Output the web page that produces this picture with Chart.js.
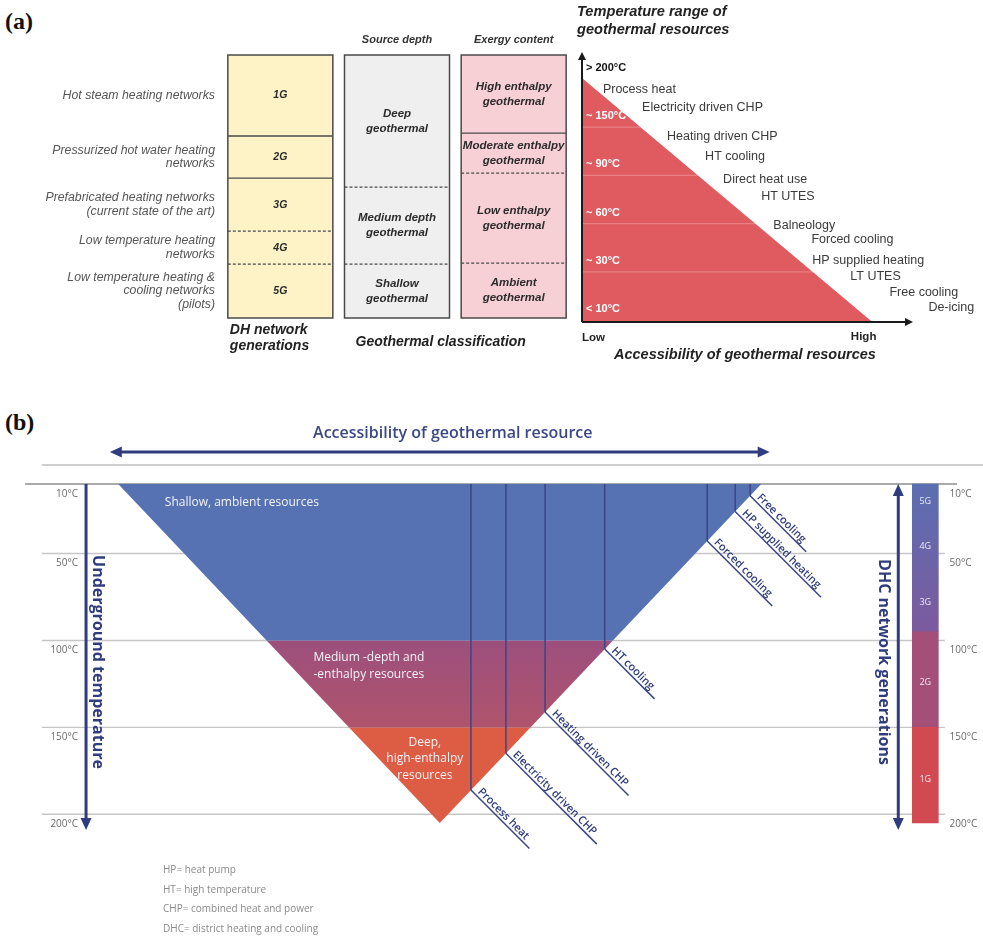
<!DOCTYPE html>
<html>
<head>
<meta charset="utf-8">
<script src="https://cdn.jsdelivr.net/npm/chart.js@4.4.1/dist/chart.umd.min.js"></script>
<style>
  html, body { margin: 0; padding: 0; background: #fff; }
  #page { position: relative; width: 983px; height: 939px; overflow: hidden; }
  canvas { position: absolute; }
  .tag { position: absolute; font: bold 24px "Liberation Serif", "DejaVu Serif", serif; color: #111; }
  .notes { position: absolute; left: 163px; top: 860px; font: 10px "Open Sans", sans-serif; color: #8a8a8a; line-height: 19.7px; }
</style>
</head>
<body>
<div id="page">
  <div class="tag" style="left:5px;top:8px">(a)</div>
  <div class="tag" style="left:5px;top:409px">(b)</div>
  <canvas id="classes" width="575" height="370" style="left:0;top:0"></canvas>
  <canvas id="range" width="413" height="370" style="left:570px;top:0"></canvas>
  <canvas id="access" width="983" height="564" style="left:0;top:375px"></canvas>
  <div class="notes">HP= heat pump<br>HT= high temperature<br>CHP= combined heat and power<br>DHC= district heating and cooling</div>
</div>
<script>
// ---------- (a) classification columns ----------
const dhGenerations = ['1G', '2G', '3G', '4G', '5G'];
const dhSpans = [30.8, 16.0, 20.2, 12.5, 20.5];
const dhDescriptions = [
  ['Hot steam heating networks'],
  ['Pressurized hot water heating', 'networks'],
  ['Prefabricated heating networks', '(current state of the art)'],
  ['Low temperature heating', 'networks'],
  ['Low temperature heating &', 'cooling networks', '(pilots)']
];
const depthClasses = [['Deep', 'geothermal'], ['Medium depth', 'geothermal'], ['Shallow', 'geothermal']];
const depthSpans = [50.2, 29.3, 20.5];
const exergyClasses = [['High enthalpy', 'geothermal'], ['Moderate enthalpy', 'geothermal'], ['Low enthalpy', 'geothermal'], ['Ambient', 'geothermal']];
const exergySpans = [29.7, 15.2, 34.2, 20.9];
const columnHeaders = ['', 'Source depth', 'Exergy content'];

// ---------- (a) temperature range vs accessibility ----------
const rangeTickLabels = ['< 10°C', '~ 30°C', '~ 60°C', '~ 90°C', '~ 150°C', '> 200°C'];
const rangeEdge = [{ x: 0, y: 4.79 }, { x: 1, y: -0.27 }];
const rangeApps = ['Process heat', 'Electricity driven CHP', 'Heating driven CHP', 'HT cooling', 'Direct heat use', 'HT UTES',
  'Balneology', 'Forced cooling', 'HP supplied heating', 'LT UTES', 'Free cooling', 'De-icing'];
const rangeAppAccess = [0.072, 0.207, 0.293, 0.424, 0.486, 0.617, 0.659, 0.79, 0.793, 0.924, 1.059, 1.193];
const rangeAppLevel = [4.56, 4.17, 3.57, 3.17, 2.68, 2.34, 1.74, 1.43, 1.0, 0.68, 0.35, 0.04];

// ---------- (b) underground temperature vs accessibility ----------
const resourceAccess = [10, 44.5, 79];   // triangle corners: shallow left, deep apex, shallow right
const resourceTemp = [10, 205, 10];
const resourceBands = [[10, 100], [100, 150], [150, 205]];
const resourceBandNames = [['Shallow, ambient resources'], ['Medium -depth and', '-enthalpy resources'], ['Deep,', 'high-enthalpy', 'resources']];
const applications = ['Process heat', 'Electricity driven CHP', 'Heating driven CHP', 'HT cooling', 'Forced cooling', 'HP supplied heating', 'Free cooling'];
const applicationAccess = [47.85, 51.6, 55.8, 62.2, 73.2, 76.2, 77.8];
const tempTicks = [10, 50, 100, 150, 200];
const tempTickLabels = ['10°C', '50°C', '100°C', '150°C', '200°C'];
const generationLabels = ['5G', '4G', '3G', '2G', '1G'];
const generationLabelTemps = [20, 46, 78, 124, 180];
const generationBands = [[10, 95], [95, 150], [150, 205]];
const generationAccess = 96.6;

const NAVY = '#2f3c7e';
const base = { responsive: false, animation: false, events: [], plugins: { legend: { display: false }, tooltip: { enabled: false } } };

function arrow(ctx, x1, y1, x2, y2, both, L, W, color, lw) {
  const a = Math.atan2(y2 - y1, x2 - x1);
  const cx = Math.cos(a), sy = Math.sin(a);
  ctx.save();
  ctx.strokeStyle = color; ctx.fillStyle = color; ctx.lineWidth = lw;
  ctx.beginPath();
  ctx.moveTo(x1 + (both ? cx * L * 0.7 : 0), y1 + (both ? sy * L * 0.7 : 0));
  ctx.lineTo(x2 - cx * L * 0.7, y2 - sy * L * 0.7);
  ctx.stroke();
  const head = (tx, ty, dx, dy) => {
    ctx.beginPath();
    ctx.moveTo(tx, ty);
    ctx.lineTo(tx - dx * L - dy * W, ty - dy * L + dx * W);
    ctx.lineTo(tx - dx * L + dy * W, ty - dy * L - dx * W);
    ctx.closePath(); ctx.fill();
  };
  head(x2, y2, cx, sy);
  if (both) head(x1, y1, -cx, -sy);
  ctx.restore();
}

function lines(ctx, arr, x, yc, lh) {
  arr.forEach((t, i) => ctx.fillText(t, x, yc + (i - (arr.length - 1) / 2) * lh));
}

// ======================= (a) classification columns =======================
const classColumns = [
  { spans: dhSpans, names: dhGenerations.map(g => [g]), fill: '#fdf3c6', dash: [[], [], [3, 2], [3, 2]], font: 'italic bold 10.5px "Liberation Sans"' },
  { spans: depthSpans, names: depthClasses, fill: '#efefef', dash: [[3, 2], [3, 2]], font: 'italic bold 11.5px "Liberation Sans"' },
  { spans: exergySpans, names: exergyClasses, fill: '#f7d0d5', dash: [[], [3, 2], [3, 2]], font: 'italic bold 11.5px "Liberation Sans"' }
];
const segCount = Math.max(...classColumns.map(c => c.spans.length));
const classDatasets = [];
for (let i = 0; i < segCount; i++) {
  classDatasets.push({
    data: classColumns.map(c => (c.spans[i] === undefined ? null : c.spans[i])),
    backgroundColor: classColumns.map(c => c.fill),
    borderWidth: 0,
    barPercentage: 0.9,
    categoryPercentage: 1,
    stack: 'class'
  });
}

const classPlugin = {
  id: 'classText',
  afterDatasetsDraw(chart) {
    const { ctx, scales: { y }, chartArea } = chart;
    const meta0 = chart.getDatasetMeta(0);
    const top = y.getPixelForValue(0), bottom = y.getPixelForValue(100);
    ctx.save();
    classColumns.forEach((col, ci) => {
      const bar = meta0.data[ci];
      const left = bar.x - bar.width / 2, right = bar.x + bar.width / 2;
      let acc = 0;
      col.spans.forEach((v, si) => {
        const y0 = y.getPixelForValue(acc), y1 = y.getPixelForValue(acc + v);
        ctx.font = col.font; ctx.fillStyle = '#2b2b2b'; ctx.textAlign = 'center'; ctx.textBaseline = 'middle';
        lines(ctx, col.names[si], bar.x, (y0 + y1) / 2, 15);
        acc += v;
        if (si < col.spans.length - 1) {
          ctx.strokeStyle = '#4a4a4a'; ctx.lineWidth = 1.3; ctx.setLineDash(col.dash[si]);
          ctx.beginPath(); ctx.moveTo(left, y1); ctx.lineTo(right, y1); ctx.stroke();
          ctx.setLineDash([]);
        }
      });
      ctx.strokeStyle = '#4a4a4a'; ctx.lineWidth = 1.5;
      ctx.strokeRect(left, top, right - left, bottom - top);
      if (columnHeaders[ci]) {
        ctx.font = 'italic bold 11px "Liberation Sans"'; ctx.fillStyle = '#333'; ctx.textAlign = 'center';
        ctx.fillText(columnHeaders[ci], bar.x, top - 15);
      }
    });
    // generation descriptions on the left
    let acc = 0;
    ctx.font = 'italic 12.3px "Liberation Sans"'; ctx.fillStyle = '#555'; ctx.textAlign = 'right'; ctx.textBaseline = 'middle';
    dhSpans.forEach((v, i) => {
      const yc = (y.getPixelForValue(acc) + y.getPixelForValue(acc + v)) / 2;
      lines(ctx, dhDescriptions[i], chartArea.left - 7, yc, 13.5);
      acc += v;
    });
    // captions below
    const b0 = meta0.data[0], b1 = meta0.data[1];
    ctx.font = 'italic bold 14px "Liberation Sans"'; ctx.fillStyle = '#222'; ctx.textAlign = 'left';
    ctx.fillText('DH network', b0.x - b0.width / 2 + 2, bottom + 12);
    ctx.fillText('generations', b0.x - b0.width / 2 + 2, bottom + 28);
    ctx.fillText('Geothermal classification', b1.x - b1.width / 2 + 11, bottom + 24);
    ctx.restore();
  }
};

new Chart(document.getElementById('classes'), {
  type: 'bar',
  data: { labels: ['DH network generations', 'Source depth', 'Exergy content'], datasets: classDatasets },
  options: {
    ...base,
    layout: { padding: { left: 222, right: 3, top: 55, bottom: 52 } },
    scales: {
      x: { type: 'category', stacked: true, display: false },
      y: { type: 'linear', stacked: true, reverse: true, min: 0, max: 100, display: false }
    }
  },
  plugins: [classPlugin]
});

// ======================= (a) temperature range triangle =======================
const rangePlugin = {
  id: 'rangeText',
  afterDatasetsDraw(chart) {
    const { ctx, scales: { x, y }, chartArea: a } = chart;
    ctx.save();
    // faint separations inside the triangle
    ctx.strokeStyle = 'rgba(255,255,255,0.22)'; ctx.lineWidth = 1.2;
    for (let i = 1; i < 5; i++) {
      const lv = i - 0.23;
      const xr = (rangeEdge[0].y - lv) / (rangeEdge[0].y - rangeEdge[1].y);
      ctx.beginPath(); ctx.moveTo(a.left, y.getPixelForValue(lv)); ctx.lineTo(x.getPixelForValue(xr), y.getPixelForValue(lv)); ctx.stroke();
    }
    // temperature labels
    ctx.font = 'bold 11px "Liberation Sans"'; ctx.textAlign = 'left'; ctx.textBaseline = 'middle';
    rangeTickLabels.forEach((t, i) => {
      ctx.fillStyle = i === rangeTickLabels.length - 1 ? '#111' : '#fff';
      ctx.fillText(t, a.left + 4, y.getPixelForValue(i));
    });
    // applications
    ctx.font = '12.5px "Liberation Sans"'; ctx.fillStyle = '#3a3a3a';
    rangeApps.forEach((t, i) => ctx.fillText(t, x.getPixelForValue(rangeAppAccess[i]), y.getPixelForValue(rangeAppLevel[i])));
    // axes with arrows
    arrow(ctx, a.left, a.bottom, a.left, a.top, false, 8, 4, '#1a1a1a', 2);
    arrow(ctx, a.left, a.bottom, a.right, a.bottom, false, 8, 4, '#1a1a1a', 2);
    ctx.fillStyle = '#222'; ctx.font = 'bold 11.5px "Liberation Sans"';
    ctx.textAlign = 'left'; ctx.fillText('Low', a.left, a.bottom + 16);
    ctx.textAlign = 'center'; ctx.fillText('High', x.getPixelForValue(0.97), a.bottom + 15);
    ctx.font = 'italic bold 14.6px "Liberation Sans"'; ctx.textAlign = 'left';
    ctx.fillText('Temperature range of', a.left - 5, 12);
    ctx.fillText('geothermal resources', a.left - 5, 30);
    ctx.font = 'italic bold 14.5px "Liberation Sans"';
    ctx.fillText('Accessibility of geothermal resources', a.left + 32, a.bottom + 33);
    ctx.restore();
  }
};

new Chart(document.getElementById('range'), {
  type: 'scatter',
  data: {
    datasets: [
      { data: rangeEdge, showLine: true, fill: 'start', backgroundColor: '#e05b60', borderColor: '#e05b60', borderWidth: 0, pointRadius: 0 },
      { data: rangeApps.map((n, i) => ({ x: rangeAppAccess[i], y: rangeAppLevel[i] })), pointRadius: 0, showLine: false }
    ]
  },
  options: {
    ...base,
    layout: { padding: { left: 12, right: 70, top: 52, bottom: 48 } },
    scales: {
      x: { type: 'linear', min: 0, max: 1.14, display: false },
      y: { type: 'linear', min: -0.27, max: 5.33, display: false }
    }
  },
  plugins: [rangePlugin]
});

// ======================= (b) accessibility triangle =======================
const leftEdge = t => resourceAccess[0] + (t - resourceTemp[0]) / (resourceTemp[1] - resourceTemp[0]) * (resourceAccess[1] - resourceAccess[0]);
const rightEdge = t => resourceAccess[2] - (t - resourceTemp[2]) / (resourceTemp[1] - resourceTemp[2]) * (resourceAccess[2] - resourceAccess[1]);
const tempAtRight = xv => resourceTemp[2] + (resourceAccess[2] - xv) / (resourceAccess[2] - resourceAccess[1]) * (resourceTemp[1] - resourceTemp[2]);

function bandGradient(c, t0, t1, c0, c1) {
  const chart = c.chart;
  if (!chart.chartArea) return c0;
  const ys = chart.scales.y;
  const g = chart.ctx.createLinearGradient(0, ys.getPixelForValue(t0), 0, ys.getPixelForValue(t1));
  g.addColorStop(0, c0); g.addColorStop(1, c1);
  return g;
}

const bandFills = [
  '#5672b3',
  c => bandGradient(c, 100, 150, '#9c4f7d', '#b0546d'),
  '#dc5c44'
];
// resource bands sit underneath everything else (higher order = drawn earlier)
const accessDatasets = resourceBands.map(([t0, t1], i) => ({
  data: [
    { x: leftEdge(t0), y: t0 }, { x: rightEdge(t0), y: t0 },
    { x: rightEdge(t1), y: t1 }, { x: leftEdge(t1), y: t1 }
  ],
  showLine: true, fill: 'shape', backgroundColor: bandFills[i], borderWidth: 0, pointRadius: 0, clip: false, order: 5
}));
applicationAccess.forEach(xv => accessDatasets.push({
  data: [{ x: xv, y: resourceTemp[2] }, { x: xv, y: tempAtRight(xv) }],
  showLine: true, borderColor: '#3a4685', borderWidth: 1.5, pointRadius: 0, clip: false, order: 1
}));
const generationFills = [
  c => bandGradient(c, 10, 95, '#5a6fb2', '#7c5a9d'),
  '#a44f78',
  '#d14951'
];
accessDatasets.push({
  type: 'bar',
  data: generationBands.map(b => ({ x: generationAccess, y: b })),
  backgroundColor: c => { const f = generationFills[c.dataIndex]; return typeof f === 'function' ? f(c) : f; },
  barThickness: 26, borderWidth: 0, borderSkipped: false, grouped: false, clip: false, order: 2
});

const accessGrid = {
  id: 'accessGrid',
  beforeDatasetsDraw(chart) {
    const { ctx, scales: { x, y } } = chart;
    ctx.save();
    tempTicks.forEach((t, i) => {
      const py = y.getPixelForValue(t);
      ctx.strokeStyle = i === 0 ? '#a9a9a9' : '#c6c6c6';
      ctx.lineWidth = i === 0 ? 2 : 1.4;
      ctx.beginPath();
      ctx.moveTo(x.getPixelForValue(i === 0 ? 0 : 1.8), py);
      ctx.lineTo(x.getPixelForValue(i === 0 ? 100 : 98.7), py);
      ctx.stroke();
    });
    // thin rule under the accessibility arrow
    const top = chart.chartArea.top;
    ctx.strokeStyle = '#cfcfcf'; ctx.lineWidth = 2;
    ctx.beginPath(); ctx.moveTo(x.getPixelForValue(1.8), top - 19); ctx.lineTo(chart.width, top - 19); ctx.stroke();
    ctx.restore();
  }
};

const accessText = {
  id: 'accessText',
  afterDatasetsDraw(chart) {
    const { ctx, scales: { x, y }, chartArea: a } = chart;
    ctx.save();
    // temperature labels on both sides
    ctx.font = '10px "Open Sans"'; ctx.fillStyle = '#6b6b6b'; ctx.textBaseline = 'middle';
    tempTicks.forEach((t, i) => {
      const py = y.getPixelForValue(t) + 10;
      ctx.textAlign = 'right'; ctx.fillText(tempTickLabels[i], x.getPixelForValue(5.7), py);
      ctx.textAlign = 'left'; ctx.fillText(tempTickLabels[i], x.getPixelForValue(99.2), py);
    });
    // resource names
    ctx.fillStyle = '#f4f4f8'; ctx.font = '12px "Open Sans"';
    ctx.textAlign = 'left';
    ctx.fillText(resourceBandNames[0][0], x.getPixelForValue(15), y.getPixelForValue(20.4));
    ctx.textAlign = 'center';
    lines(ctx, resourceBandNames[1], x.getPixelForValue(36.9), y.getPixelForValue(115), 17);
    lines(ctx, resourceBandNames[2], x.getPixelForValue(42.9), y.getPixelForValue(168), 16.5);
    // applications along the right edge
    ctx.font = '600 11px "Open Sans"';
    applications.forEach((name, i) => {
      const px = x.getPixelForValue(applicationAccess[i]);
      const py = y.getPixelForValue(tempAtRight(applicationAccess[i]));
      const w = ctx.measureText(name).width;
      ctx.save();
      ctx.translate(px, py); ctx.rotate(Math.PI / 4);
      ctx.strokeStyle = '#3a4685'; ctx.lineWidth = 1.5;
      ctx.beginPath(); ctx.moveTo(0, 0); ctx.lineTo(w + 15, 0); ctx.stroke();
      ctx.fillStyle = NAVY; ctx.textAlign = 'left'; ctx.textBaseline = 'alphabetic';
      ctx.fillText(name, 6, -3);
      ctx.restore();
    });
    // generation labels in the bar
    ctx.font = '9px "Open Sans"'; ctx.fillStyle = '#ecebf3'; ctx.textAlign = 'center'; ctx.textBaseline = 'middle';
    generationLabels.forEach((g, i) => ctx.fillText(g, x.getPixelForValue(generationAccess), y.getPixelForValue(generationLabelTemps[i])));
    // arrows
    const yTop = y.getPixelForValue(10), yEnd = y.getPixelForValue(205) + 7;
    arrow(ctx, x.getPixelForValue(6.55), yTop, x.getPixelForValue(6.55), yEnd, false, 12, 5.5, NAVY, 3);
    arrow(ctx, x.getPixelForValue(93.7), yTop, x.getPixelForValue(93.7), yEnd, true, 12, 5.5, NAVY, 3);
    arrow(ctx, x.getPixelForValue(9.1), a.top - 32, x.getPixelForValue(79.9), a.top - 32, true, 12, 5.5, NAVY, 3);
    // axis titles
    ctx.fillStyle = '#3b4888'; ctx.font = '600 16px "Open Sans"'; ctx.textAlign = 'center'; ctx.textBaseline = 'middle';
    ctx.fillText('Accessibility of geothermal resource', x.getPixelForValue(45.9), a.top - 51);
    ctx.font = 'bold 16px "Open Sans"'; ctx.fillStyle = NAVY;
    const midY = (yTop + yEnd) / 2 + 5;
    [[7.75, 'Underground temperature'], [92.15, 'DHC network generations']].forEach(([xv, t]) => {
      ctx.save(); ctx.translate(x.getPixelForValue(xv), midY); ctx.rotate(Math.PI / 2);
      ctx.fillText(t, 0, 0); ctx.restore();
    });
    ctx.restore();
  }
};

new Chart(document.getElementById('access'), {
  type: 'scatter',
  data: { datasets: accessDatasets },
  options: {
    ...base,
    layout: { padding: { left: 25, right: 26, top: 109, bottom: 116 } },
    scales: {
      x: { type: 'linear', min: 0, max: 100, offset: false, display: false },
      y: { type: 'linear', min: 10, max: 205, reverse: true, display: false }
    }
  },
  plugins: [accessGrid, accessText]
});
</script>
</body>
</html>
